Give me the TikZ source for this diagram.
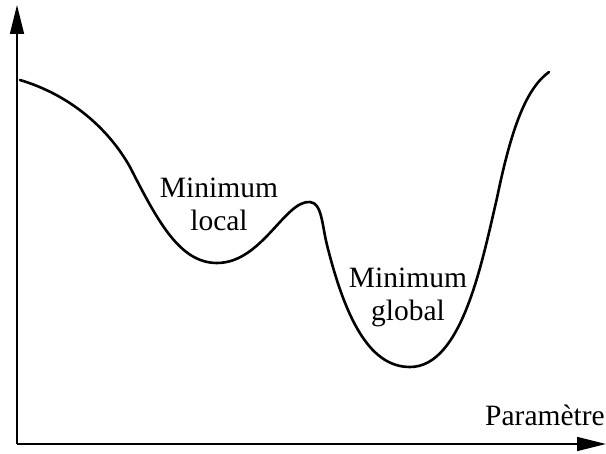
\documentclass[tikz,border=0pt]{standalone}
\usepackage{fontspec}
\setmainfont{Liberation Serif}
\usetikzlibrary{arrows.meta}
\tikzset{
  axis/.style={line width=1.6pt, -{Triangle[length=29pt,width=14pt]}},
  curve/.style={line width=2.6pt, line cap=round},
  lbl/.style={font=\fontsize{29.5}{33}\selectfont, align=center, inner sep=0pt},
}
\begin{document}
\begin{tikzpicture}[x=1pt,y=-1pt]
\useasboundingbox (0,0) rectangle (606,454);
\coordinate (O) at (17,444);
\coordinate (Ytop) at (17,5);
\coordinate (Xend) at (606,444);
\draw[axis] (O) -- (Ytop);
\draw[axis] (O) -- (Xend);
\draw[curve] (20,80)
  .. controls (70,95) and (108,128) .. (130,167)
  .. controls (158,222) and (180,263) .. (217,263)
  .. controls (262,263) and (285,200) .. (310,202)
  .. controls (322,203) and (322,225) .. (327,245)
  .. controls (347,325) and (372,367) .. (410,367)
  .. controls (462,367) and (482,262) .. (497,198)
  .. controls (512,125) and (527,88) .. (549,72);
\node[lbl] (loc) at (219,204) {Minimum\\local};
\node[lbl] (glob) at (408,297) {Minimum\\global};
\node[lbl, anchor=base east] (par) at (605,426) {Paramètre};
\end{tikzpicture}
\end{document}
